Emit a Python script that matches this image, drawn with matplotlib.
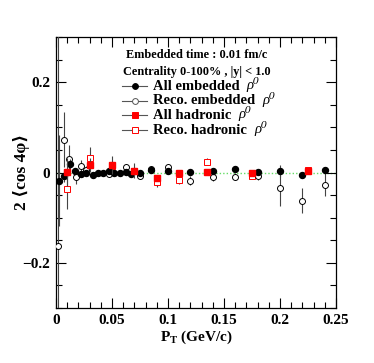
import matplotlib
matplotlib.use("Agg")
import matplotlib.pyplot as plt
from matplotlib.lines import Line2D
from matplotlib.ticker import MultipleLocator

plt.rcParams['font.family'] = ['Liberation Serif', 'DejaVu Serif']
plt.rcParams['font.weight'] = 'bold'
plt.rcParams['mathtext.fontset'] = 'custom'
plt.rcParams['mathtext.rm'] = 'Liberation Serif:bold'
plt.rcParams['mathtext.it'] = 'Liberation Serif:italic'

# All embedded rho0
all_emb_x = [0.0027, 0.0074, 0.0125, 0.017, 0.022, 0.027, 0.033, 0.0375, 0.042, 0.047,
             0.052, 0.057, 0.0625, 0.0667, 0.075, 0.085, 0.100, 0.120, 0.140, 0.160,
             0.180, 0.200, 0.220, 0.240]
all_emb_y = [-0.018, -0.007, 0.018, 0.003, -0.003, 0.0, -0.006, 0.0, 0.0, 0.003,
             0.0, 0.0, 0.002, -0.004, 0.0, 0.006, 0.003, 0.001, 0.003, 0.007,
             0.002, 0.004, -0.005, 0.006]
all_emb_e = [0.10, 0.015, 0.012, 0.006, 0.005, 0.005, 0.005, 0.004, 0.004, 0.004,
             0.004, 0.004, 0.004, 0.004, 0.004, 0.004, 0.004, 0.004, 0.004, 0.004,
             0.004, 0.013, 0.005, 0.007]

# Reconstructed embedded rho0
reco_emb_x = [0.002, 0.007, 0.012, 0.0175, 0.0223, 0.027, 0.047, 0.0625, 0.075, 0.085,
              0.100, 0.120, 0.140, 0.160, 0.180, 0.200, 0.220, 0.240]
reco_emb_y = [-0.163, 0.073, 0.030, -0.010, 0.015, 0.006, -0.003, 0.012, -0.007, 0.008,
              0.013, -0.018, -0.010, -0.009, -0.007, -0.035, -0.062, -0.027]
reco_emb_e = [0.5, 0.06, 0.03, 0.015, 0.012, 0.008, 0.006, 0.006, 0.006, 0.006,
              0.006, 0.010, 0.008, 0.008, 0.010, 0.039, 0.027, 0.025]

# All hadronic rho0
all_had_x = [0.010, 0.030, 0.050, 0.070, 0.090, 0.110, 0.135, 0.175, 0.225]
all_had_y = [0.001, 0.017, 0.017, 0.004, -0.012, 0.000, 0.002, -0.001, 0.003]
all_had_e = [0.03, 0.015, 0.02, 0.016, 0.006, 0.004, 0.004, 0.004, 0.004]

# Reconstructed hadronic rho0
reco_had_x = [0.010, 0.030, 0.050, 0.070, 0.090, 0.110, 0.135, 0.175, 0.225]
reco_had_y = [-0.036, 0.032, 0.015, 0.004, -0.021, -0.016, 0.024, -0.007, 0.006]
reco_had_e = [0.045, 0.025, 0.010, 0.008, 0.012, 0.010, 0.008, 0.005, 0.004]

legend_labels = ['All embedded', 'Reco. embedded', 'All hadronic', 'Reco. hadronic']

W, H = 374, 363
fig = plt.figure(figsize=(W/100, H/100), dpi=100)
ax = fig.add_axes([56/W, (H-308)/H, 280/W, 271/H])

ax.axhline(0, color='#66dd66', lw=1.0, ls=(0, (1, 1.5)), zorder=1)

ecol = '#444444'
ax.errorbar(all_emb_x, all_emb_y, yerr=all_emb_e, fmt='o', color='black', ms=4.3,
            ecolor=ecol, elinewidth=0.8, capsize=0, zorder=4)
ax.errorbar(reco_emb_x, reco_emb_y, yerr=reco_emb_e, fmt='o', mfc='white', mec='black',
            mew=0.7, ms=4.3, ecolor=ecol, elinewidth=0.8, capsize=0, zorder=3)
ax.errorbar(all_had_x, all_had_y, yerr=all_had_e, fmt='s', color='red', ms=4.5,
            ecolor=ecol, elinewidth=0.8, capsize=0, zorder=5)
ax.errorbar(reco_had_x, reco_had_y, yerr=reco_had_e, fmt='s', mfc='white', mec='red',
            mew=0.7, ms=4.5, ecolor=ecol, elinewidth=0.8, capsize=0, zorder=2)

ax.set_xlim(0, 0.25)
ax.set_ylim(-0.3, 0.3)
ax.xaxis.set_minor_locator(MultipleLocator(0.01))
ax.yaxis.set_minor_locator(MultipleLocator(0.05))
ax.set_xticks([0, 0.05, 0.1, 0.15, 0.2, 0.25])
ax.set_xticklabels(['0', '0.05', '0.1', '0.15', '0.2', '0.25'])
ax.set_yticks([-0.2, 0, 0.2])
ax.set_yticklabels(['\u22120.2', '0', '0.2'])
ax.tick_params(which='both', direction='in', top=True, right=True, width=0.8)
ax.tick_params(which='major', length=7, labelsize=11, pad=4)
ax.tick_params(which='minor', length=4)
for lab in ax.get_xticklabels() + ax.get_yticklabels():
    lab.set_fontweight('bold')
for s in ax.spines.values():
    s.set_linewidth(0.9)

fig.text(196/W, 1 - 337/H, r'P$_\mathrm{T}$ (GeV/c)', ha='center', va='center',
         fontsize=11, fontweight='bold')
fig.text(22/W, 1 - 172/H, '2 \u27e8cos 4\u03c6\u27e9', ha='center', va='center',
         rotation=90, fontsize=12.5, fontweight='bold')

fig.text(197/W, 1 - 55/H, 'Embedded time : 0.01 fm/c', ha='center', va='center',
         fontsize=8.8, fontweight='bold')
fig.text(197/W, 1 - 72/H, 'Centrality 0-100% , |y| < 1.0', ha='center', va='center',
         fontsize=8.8, fontweight='bold')

styles = [dict(marker='o', mfc='black', mec='black'),
          dict(marker='o', mfc='white', mec='#555555'),
          dict(marker='s', mfc='red', mec='red'),
          dict(marker='s', mfc='white', mec='red')]
ys = [86, 101, 115.5, 130]
renderer = fig.canvas.get_renderer()
for lab, st, yp in zip(legend_labels, styles, ys):
    yf = 1 - yp/H
    fig.add_artist(Line2D([122/W, 147/W], [yf, yf], color='#555555', lw=0.8))
    fig.add_artist(Line2D([134.5/W], [yf], color='#555555', ms=4.2, mew=0.7, **st))
    t = fig.text(153/W, yf, lab, ha='left', va='center', fontsize=10.5,
                 fontweight='bold')
    bb = t.get_window_extent(renderer=renderer)
    fig.text((bb.x1 + 7)/W, yf + 1.5/H, '\u03c1\u2070', ha='left', va='center',
             fontsize=10.5, fontweight='normal', style='italic')

fig.savefig('out.png', dpi=100)
